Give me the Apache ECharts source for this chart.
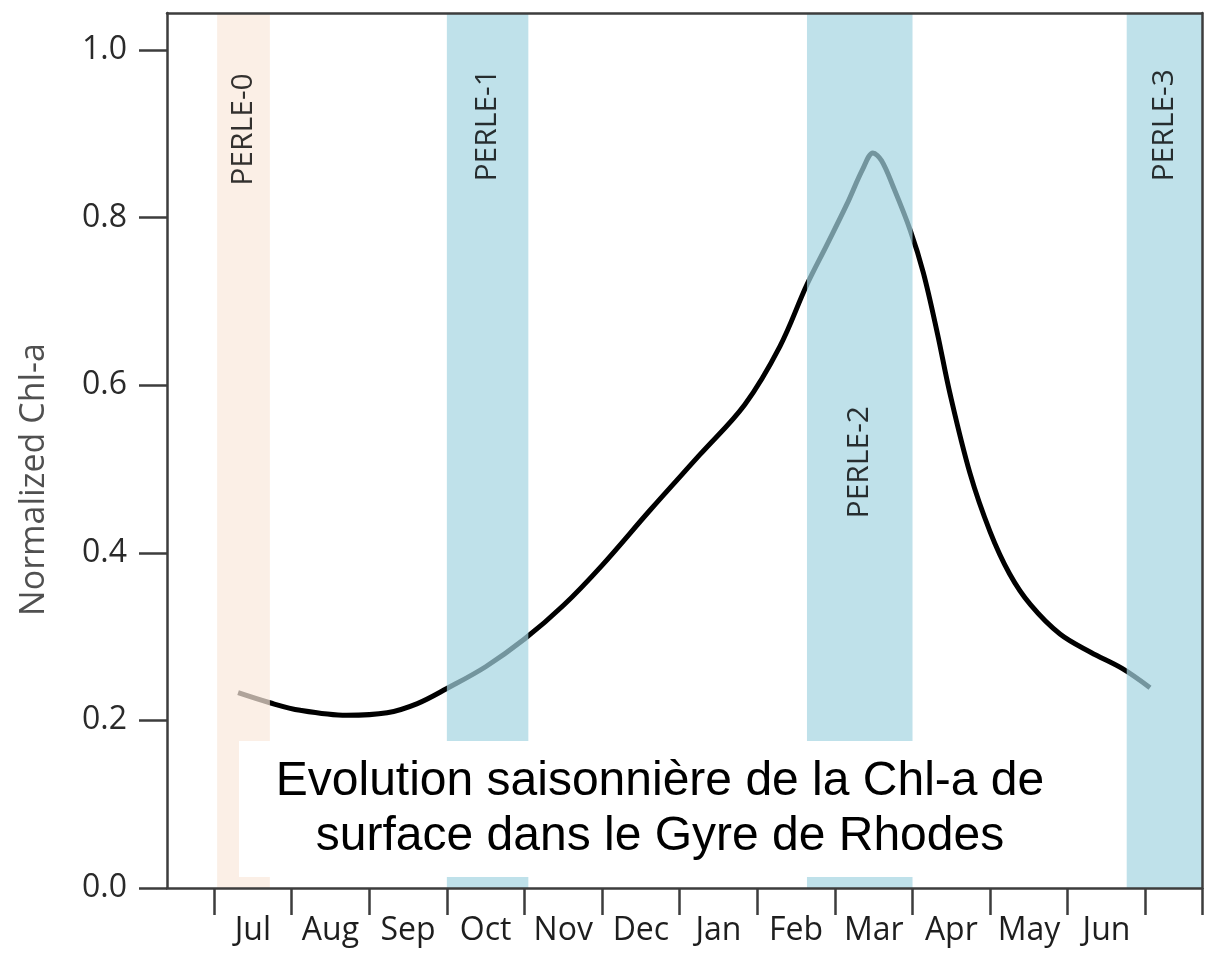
<!DOCTYPE html>
<html>
<head>
<meta charset="utf-8">
<title>Chl-a Gyre de Rhodes</title>
<script src="https://cdn.jsdelivr.net/npm/echarts@6/dist/echarts.min.js"></script>
<style>
html, body { margin: 0; padding: 0; background: #fff; }
#chlChart { width: 1215px; height: 957px; }
</style>
</head>
<body>
<div id="chlChart"></div>
<script>
var axisColor = '#3d3d3d';
var labelFont = '"Open Sans", "Noto Sans", sans-serif';

// x in months counted from the start of July
var monthNames = ['Jul', 'Aug', 'Sep', 'Oct', 'Nov', 'Dec', 'Jan', 'Feb', 'Mar', 'Apr', 'May', 'Jun'];
var monthTicks = [0, 1, 2, 3, 4, 5, 6, 7, 8, 9, 10, 11, 12, 12.73];
var monthLabelPos = [0.5, 1.5, 2.5, 3.5, 4.5, 5.5, 6.5, 7.5, 8.5, 9.5, 10.5, 11.5];
var yTicks = [0, 0.2, 0.4, 0.6, 0.8, 1.0];

// courbe Chl-a normalisee
var chlMonth = [0.31, 0.72, 1.11, 1.71, 2.23, 2.62, 3.00, 3.50, 4.00, 4.50, 5.00, 5.62, 6.26, 6.84,
    7.29, 7.64, 7.90, 8.15, 8.36, 8.49, 8.60, 8.75, 8.97, 9.14, 9.32, 9.48, 9.74,
    10.00, 10.25, 10.52, 10.90, 11.30, 11.70, 12.06];
var chlValue = [0.233, 0.221, 0.212, 0.206, 0.209, 0.220, 0.238, 0.264, 0.297, 0.337, 0.385, 0.451, 0.517, 0.577,
    0.646, 0.720, 0.768, 0.815, 0.858, 0.877, 0.868, 0.837, 0.785, 0.734, 0.662, 0.591, 0.495,
    0.425, 0.375, 0.338, 0.303, 0.281, 0.262, 0.239];

// campagnes PERLE
var campaignNames = ['PERLE-0', 'PERLE-1', 'PERLE-2', 'PERLE-3'];
var campaignStart = [0.04, 3.0, 7.64, 11.76];
var campaignEnd = [0.72, 4.05, 9.0, 12.73];
var campaignLabelY = [0.905, 0.91, 0.508, 0.91];
var campaignColor = ['rgba(250, 232, 220, 0.7)', 'rgba(164, 212, 225, 0.7)', 'rgba(164, 212, 225, 0.7)', 'rgba(164, 212, 225, 0.7)'];

var chlChart = function () {
    var myChart = echarts.init(document.getElementById('chlChart'));

    var lineData = chlMonth.map(function (m, i) {
        return [m, chlValue[i]];
    });
    var bands = campaignNames.map(function (n, i) {
        return [{ xAxis: campaignStart[i], itemStyle: { color: campaignColor[i] } }, { xAxis: campaignEnd[i] }];
    });
    var bandLabels = campaignNames.map(function (n, i) {
        return { name: n, value: [(campaignStart[i] + campaignEnd[i]) / 2, campaignLabelY[i]] };
    });

    var frameAxis = {
        axisLine: { show: true, onZero: false, lineStyle: { color: axisColor, width: 2.5 } },
        axisTick: { show: false },
        axisLabel: { show: false },
        splitLine: { show: false }
    };

    var option = {
        animation: false,
        grid: { left: 167, right: 13, top: 13, bottom: 69 },
        xAxis: [
            {
                type: 'value',
                min: -0.606,
                max: 12.73,
                z: 10,
                axisLine: { show: true, onZero: false, lineStyle: { color: axisColor, width: 2.5 } },
                axisTick: {
                    show: true,
                    length: 27,
                    customValues: monthTicks,
                    lineStyle: { color: axisColor, width: 2.5 }
                },
                axisLabel: {
                    customValues: monthLabelPos,
                    margin: 27,
                    fontFamily: labelFont,
                    fontSize: 32,
                    color: '#1e1e1e',
                    formatter: function (v) {
                        return monthNames[Math.round(v - 0.5)];
                    }
                },
                splitLine: { show: false }
            },
            Object.assign({ type: 'value', position: 'top', min: -0.606, max: 12.73, z: 10 }, frameAxis)
        ],
        yAxis: [
            {
                type: 'value',
                min: 0,
                max: 1.044,
                z: 10,
                name: 'Normalized Chl-a',
                nameLocation: 'middle',
                nameGap: 116,
                nameTextStyle: { fontFamily: labelFont, fontSize: 34, color: '#505050', padding: [0, 58, 0, 0] },
                axisLine: { show: true, onZero: false, lineStyle: { color: axisColor, width: 2.5 } },
                axisTick: {
                    show: true,
                    length: 28,
                    customValues: yTicks,
                    lineStyle: { color: axisColor, width: 2.5 }
                },
                axisLabel: {
                    customValues: yTicks,
                    margin: 40,
                    fontFamily: labelFont,
                    fontSize: 32,
                    color: '#2a2a2a',
                    formatter: function (v) {
                        return v.toFixed(1);
                    }
                },
                splitLine: { show: false }
            },
            Object.assign({ type: 'value', position: 'right', min: 0, max: 1.044, z: 10 }, frameAxis)
        ],
        series: [
            {
                name: 'Chl-a',
                type: 'line',
                z: 1,
                smooth: 0.35,
                symbol: 'none',
                lineStyle: { color: '#000', width: 5 },
                data: lineData
            },
            {
                name: 'PERLE',
                type: 'scatter',
                z: 8,
                symbolSize: 1,
                itemStyle: { color: 'rgba(0,0,0,0)' },
                markArea: {
                    silent: true,
                    z: 5,
                    data: bands
                },
                label: {
                    show: true,
                    position: 'inside',
                    rotate: 90,
                    align: 'center',
                    verticalAlign: 'middle',
                    fontFamily: labelFont,
                    fontSize: 30,
                    color: '#000',
                    formatter: '{b}'
                },
                data: bandLabels
            }
        ],
        // encadre de titre
        graphic: [
            {
                type: 'rect',
                z: 100,
                shape: { x: 239, y: 741, width: 841, height: 136 },
                style: { fill: '#fff' }
            },
            {
                type: 'text',
                z: 101,
                x: 660,
                y: 809,
                style: {
                    text: 'Evolution saisonnière de la Chl-a de\nsurface dans le Gyre de Rhodes',
                    font: '48px "Liberation Sans", Arial, sans-serif',
                    lineHeight: 55,
                    fill: '#000',
                    align: 'center',
                    verticalAlign: 'middle'
                }
            }
        ]
    };
    myChart.setOption(option);
};

chlChart();
</script>
</body>
</html>
